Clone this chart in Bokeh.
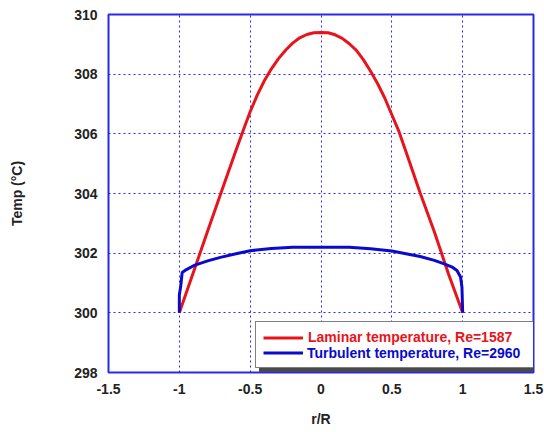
from bokeh.plotting import figure
from bokeh.models import Legend, LegendItem, FixedTicker
from bokeh.embed import file_html
from bokeh.resources import INLINE

# Radial temperature profiles across the pipe (r/R from -1 to 1)
lam_r = [-1.0, -0.9, -0.8, -0.7, -0.6, -0.55, -0.5, -0.45, -0.4, -0.35,
         -0.3, -0.25, -0.2, -0.15, -0.1, -0.05, 0.0, 0.05, 0.1, 0.15,
         0.2, 0.25, 0.3, 0.35, 0.4, 0.45, 0.5, 0.55, 0.6, 0.7,
         0.8, 0.9, 1.0]
lam_T = [300.0, 301.37, 302.74, 304.1, 305.45, 306.1, 306.74, 307.3, 307.78, 308.18,
         308.52, 308.8, 309.04, 309.22, 309.33, 309.39, 309.4, 309.39, 309.32, 309.2,
         309.02, 308.8, 308.48, 308.1, 307.68, 307.2, 306.64, 306.08, 305.4, 304.02,
         302.72, 301.3, 300.0]

turb_r = [-1.0, -1.0, -0.99, -0.98, -0.95, -0.90, -0.80, -0.71, -0.60, -0.50,
          -0.35, -0.20, 0.0, 0.20, 0.35, 0.50, 0.60, 0.70, 0.80, 0.87,
          0.93, 0.96, 0.985, 0.995, 1.0]
turb_T = [300.0, 300.6, 300.9, 301.35, 301.45, 301.58, 301.74, 301.86, 301.98, 302.08,
          302.16, 302.2, 302.2, 302.2, 302.15, 302.07, 301.98, 301.89, 301.76, 301.64,
          301.52, 301.42, 301.2, 300.86, 300.0]

x_ticks = [-1.5, -1.0, -0.5, 0.0, 0.5, 1.0, 1.5]
x_tick_labels = ["-1.5", "-1", "-0.5", "0", "0.5", "1", "1.5"]
y_ticks = [298, 300, 302, 304, 306, 308, 310]
y_tick_labels = ["298", "300", "302", "304", "306", "308", "310"]

lam_label = "Laminar temperature, Re=1587"
turb_label = "Turbulent temperature, Re=2960"

RED = "#e8141c"
BLUE = "#0a0acc"
FRAME = "#2a2ae6"
FONT = "Liberation Sans"

p = figure(width=544, height=432, x_range=(-1.5, 1.5), y_range=(298, 310),
           output_backend="svg", toolbar_location=None,
           min_border_left=108, min_border_right=11,
           min_border_top=14, min_border_bottom=60)

p.outline_line_color = FRAME
p.outline_line_width = 2

for ax in (p.xaxis[0], p.yaxis[0]):
    ax.axis_line_color = None
    ax.major_tick_line_color = None
    ax.minor_tick_line_color = None
    ax.major_tick_out = 0
    ax.major_tick_in = 0
    ax.major_label_text_font = FONT
    ax.major_label_text_font_style = "bold"
    ax.major_label_text_font_size = "14px"
    ax.major_label_text_color = "#222222"
    ax.axis_label_text_font = FONT
    ax.axis_label_text_font_style = "bold"
    ax.axis_label_text_font_size = "14px"
    ax.axis_label_text_color = "#222222"

p.xaxis.ticker = FixedTicker(ticks=x_ticks)
p.xaxis.major_label_overrides = dict(zip(x_ticks, x_tick_labels))
p.yaxis.ticker = FixedTicker(ticks=y_ticks)
p.yaxis.major_label_overrides = dict(zip(y_ticks, y_tick_labels))
p.xaxis.major_label_standoff = 11
p.yaxis.major_label_standoff = 11
p.xaxis.axis_label = "r/R"
p.yaxis.axis_label = "Temp (°C)"
p.xaxis.axis_label_standoff = 14
p.yaxis.axis_label_standoff = 46

for g in (p.xgrid[0], p.ygrid[0]):
    g.grid_line_color = "#0000ff"
    g.grid_line_dash = "2 3"
    g.grid_line_width = 1
    g.grid_line_alpha = 0.85

r_lam = p.line(lam_r, lam_T, line_color=RED, line_width=3)
r_turb = p.line(turb_r, turb_T, line_color=BLUE, line_width=3)

# invisible renderer used for the legend's drop shadow and overlay text row
r_ghost = p.line([0], [300], line_alpha=0)

LABEL_W = 218


def make_legend(items, x, y, **kw):
    return Legend(items=items, location=(x, y), margin=0,
                  glyph_width=40, glyph_height=15, label_height=15,
                  label_standoff=5, spacing=0,
                  label_text_font=FONT, label_text_font_style="bold",
                  label_text_font_size="14px", **kw)


shadow = make_legend([LegendItem(label=" ", renderers=[r_ghost]),
                      LegendItem(label=" ", renderers=[r_ghost])],
                     151, 0, padding=7, label_width=LABEL_W,
                     background_fill_color="#4a4a4a", background_fill_alpha=1,
                     border_line_color="#4a4a4a")
main = make_legend([LegendItem(label=lam_label, renderers=[r_lam]),
                    LegendItem(label=" ", renderers=[r_turb])],
                   147, 4, padding=7, label_width=LABEL_W, label_text_color=RED,
                   background_fill_color="white", background_fill_alpha=1,
                   border_line_color="black", border_line_width=1)
# second row text in its own colour, drawn over the main legend box
second = make_legend([LegendItem(label=turb_label, renderers=[r_ghost])],
                     154, 11, padding=0, label_text_color=BLUE,
                     background_fill_alpha=0, border_line_color=None)

p.add_layout(shadow)
p.add_layout(main)
p.add_layout(second)

open("out.html", "w").write(file_html(p, INLINE))
